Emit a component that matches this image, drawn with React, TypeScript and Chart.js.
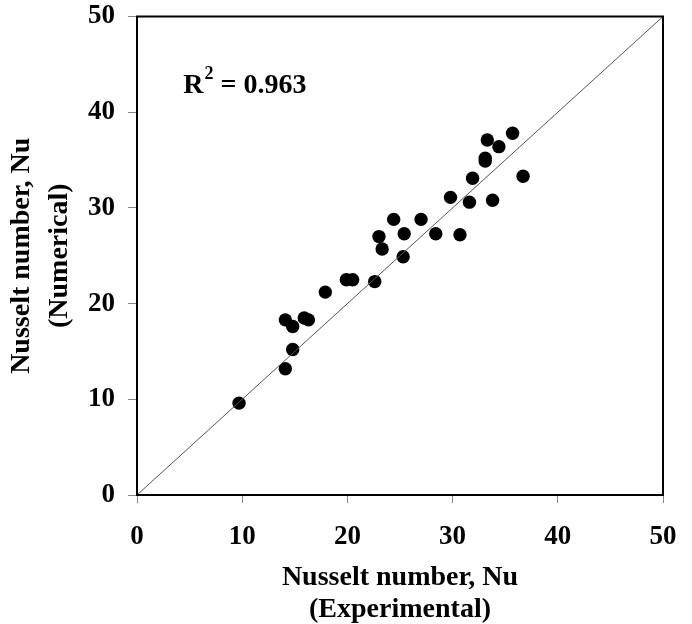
import React, { useEffect, useRef } from "react";
import { Chart, registerables } from "chart.js";

Chart.register(...registerables);

// Experimental Nusselt numbers (x) and numerical Nusselt numbers (y)
const experimental = [
  9.7, 14.1, 14.8, 14.1, 14.8, 15.9, 16.3, 17.9, 19.9, 20.5, 22.6, 23.0, 23.3, 24.4,
  25.4, 25.3, 27.0, 28.4, 30.7, 29.8, 31.6, 33.8, 31.9, 33.1, 33.1, 33.3, 34.4, 35.7, 36.7,
];
const numerical = [
  9.6, 13.2, 15.2, 18.3, 17.6, 18.5, 18.3, 21.2, 22.5, 22.5, 22.3, 27.0, 25.7, 28.8,
  27.3, 24.9, 28.8, 27.3, 27.2, 31.1, 30.6, 30.8, 33.1, 35.2, 34.9, 37.1, 36.4, 37.8, 33.3,
];
const parityLine = [0, 50];
const axisMin = 0;
const axisMax = 50;
const tickStep = 10;
const xTitle = ["Nusselt number, Nu", "(Experimental)"];
const yTitle = ["Nusselt number, Nu", "(Numerical)"];
const r2Value = "0.963";
const r2Anchor = { x: 4.4, y: 42.0 };

const FONT = "'Liberation Serif', 'Times New Roman', serif";

const frameAndLabel = {
  id: "frameAndLabel",
  afterDatasetsDraw(chart: any) {
    const { ctx, chartArea } = chart;
    ctx.save();
    ctx.strokeStyle = "#000";
    ctx.lineWidth = 2;
    ctx.strokeRect(chartArea.left, chartArea.top, chartArea.right - chartArea.left, chartArea.bottom - chartArea.top);
    const xs = chart.scales.x;
    const ys = chart.scales.y;
    let px = xs.getPixelForValue(r2Anchor.x);
    const py = ys.getPixelForValue(r2Anchor.y);
    ctx.fillStyle = "#000";
    ctx.textBaseline = "alphabetic";
    ctx.textAlign = "left";
    ctx.font = `bold 28px ${FONT}`;
    ctx.fillText("R", px, py);
    px += ctx.measureText("R").width + 1;
    ctx.font = `bold 18px ${FONT}`;
    ctx.fillText("2", px, py - 14);
    px += ctx.measureText("2").width;
    ctx.font = `bold 28px ${FONT}`;
    ctx.fillText(" = " + r2Value, px, py);
    ctx.restore();
  },
};

export default function App() {
  const ref = useRef<HTMLCanvasElement>(null);
  useEffect(() => {
    if (!ref.current) return;
    const chart = new Chart(ref.current, {
      type: "scatter",
      data: {
        datasets: [
          {
            type: "line",
            data: parityLine.map((v) => ({ x: v, y: v })),
            borderColor: "#555",
            borderWidth: 1,
            pointRadius: 0,
            fill: false,
          } as any,
          {
            data: experimental.map((x, i) => ({ x, y: numerical[i] })),
            backgroundColor: "#000",
            borderWidth: 0,
            pointRadius: 6.7,
          },
        ],
      },
      plugins: [frameAndLabel],
      options: {
        responsive: false,
        animation: false,
        layout: { padding: { top: 16.5, right: 29, left: 0, bottom: 0 } },
        plugins: { legend: { display: false }, tooltip: { enabled: false } },
        scales: {
          x: {
            type: "linear",
            min: axisMin,
            max: axisMax,
            ticks: {
              stepSize: tickStep,
              color: "#000",
              font: { family: FONT, size: 27, weight: "bold" },
              padding: 18,
            },
            grid: { drawOnChartArea: false, tickLength: 8, color: "#888", tickWidth: 1 },
            border: { display: false },
            title: {
              display: true,
              text: xTitle,
              color: "#000",
              font: { family: FONT, size: 28, weight: "bold", lineHeight: 1.15 },
              padding: { top: 0, bottom: -2 },
            },
            afterFit: (s: any) => {
              s.height = 129;
              s.paddingLeft = 0;
              s.paddingRight = 0;
            },
          },
          y: {
            type: "linear",
            min: axisMin,
            max: axisMax,
            ticks: {
              stepSize: tickStep,
              color: "#000",
              font: { family: FONT, size: 27, weight: "bold" },
              padding: 13,
            },
            grid: { drawOnChartArea: false, tickLength: 9, color: "#888", tickWidth: 1 },
            border: { display: false },
            title: {
              display: true,
              text: yTitle,
              color: "#000",
              font: { family: FONT, size: 28, weight: "bold", lineHeight: 1.36 },
              padding: { top: 3, bottom: 0 },
            },
            afterFit: (s: any) => {
              s.width = 137;
              s.paddingTop = 0;
              s.paddingBottom = 0;
            },
          },
        },
      },
    });
    return () => chart.destroy();
  }, []);
  return (
    <div style={{ position: "absolute", left: 0, top: 0, width: 692, height: 624 }}>
      <canvas ref={ref} width={692} height={624} style={{ display: "block" }} />
    </div>
  );
}
